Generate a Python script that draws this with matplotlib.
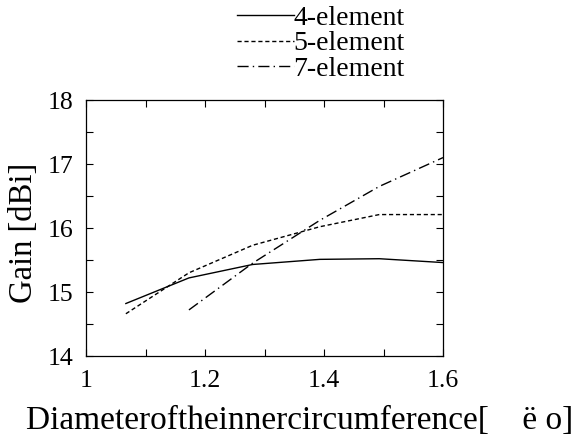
import matplotlib
matplotlib.use("Agg")
import matplotlib.pyplot as plt
from matplotlib.ticker import MultipleLocator

plt.rcParams['font.family'] = ['Liberation Serif', 'DejaVu Sans']

x4 = [1.067, 1.173, 1.28, 1.393, 1.493, 1.6]
g4 = [14.82, 15.22, 15.43, 15.51, 15.52, 15.46]
x5 = [1.067, 1.173, 1.28, 1.393, 1.493, 1.6]
g5 = [14.66, 15.30, 15.73, 16.02, 16.21, 16.21]
x7 = [1.173, 1.28, 1.393, 1.493, 1.6]
g7 = [14.72, 15.45, 16.12, 16.65, 17.10]
labels = ['4-element', '5-element', '7-element']
xticks = [1, 1.2, 1.4, 1.6]
yticks = [14, 15, 16, 17, 18]

fig = plt.figure(figsize=(5.78, 4.44), dpi=100)
ax = fig.add_axes([86/578, 1-356/444, (443-86)/578, (356-100)/444])

l1, = ax.plot(x4, g4, color='black', lw=1.0, ls='-')
l2, = ax.plot(x5, g5, color='black', lw=1.0, ls=(0, (3, 2)))
l3, = ax.plot(x7, g7, color='black', lw=1.0, ls=(0, (8, 3, 1, 3)))

ax.set_xlim(1, 1.6)
ax.set_ylim(14, 18)
ax.set_xticks(xticks)
ax.set_xticklabels(['1', '1.2', '1.4', '1.6'])
ax.set_yticks(yticks)
ax.xaxis.set_minor_locator(MultipleLocator(0.1))
ax.yaxis.set_minor_locator(MultipleLocator(0.5))
ax.tick_params(which='both', direction='in', top=True, right=True, length=5, width=0.8, labelsize=18.5)
ax.tick_params(axis='y', pad=9)
ax.tick_params(axis='x', pad=10)
ax.set_ylabel('Gain [dBi]', fontsize=23.5)
ax.set_xlabel('Diameteroftheinnercircumference[    ë o]', fontsize=24)
ax.yaxis.set_label_coords(-0.133, 0.48)
ax.xaxis.set_label_coords(0.598, -0.194)
for s in ax.spines.values():
    s.set_linewidth(0.9)

fig.legend([l1, l2, l3], labels, loc='upper left', bbox_to_anchor=(220/578, 1.025),
           frameon=False, fontsize=20, handlelength=2.05, handletextpad=0.0,
           labelspacing=0.0, borderpad=0.1)

fig.savefig('out.png', dpi=100)
